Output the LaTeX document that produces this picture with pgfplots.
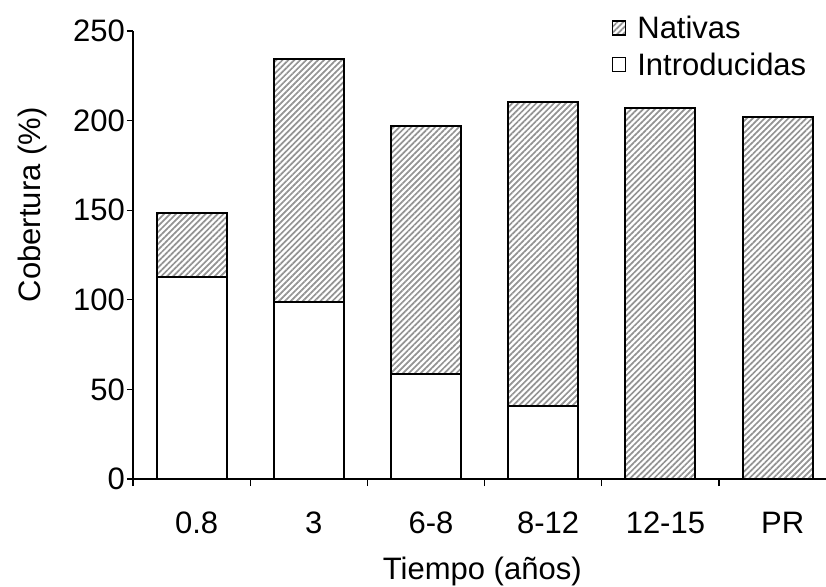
\documentclass[border=0pt]{standalone}
\usepackage{fontspec}
\setmainfont{Liberation Sans}
\usepackage{pgfplots}
\pgfplotsset{compat=1.18}
\usetikzlibrary{patterns.meta}

\tikzset{hatch/.style={pattern={Lines[angle=45,distance=4.2pt,line width=1.7pt]},pattern color=gray!85}}

\begin{document}
\fontsize{31}{37}\selectfont
\begin{tikzpicture}
\begin{axis}[
  at={(133pt,107pt)}, anchor=south west,
  scale only axis, width=693pt, height=448pt,
  ybar stacked, bar width=70pt,
  xmin=-0.5, xmax=5.413, ymin=0, ymax=250,
  ytick={0,50,...,250},
  xtick={0,...,5},
  xticklabels={0.8,3,6-8,8-12,12-15,PR},
  minor xtick={-0.5,0.5,1.5,2.5,3.5,4.5},
  major x tick style={draw=none},
  axis lines*=left,
  axis line style={line width=1.3pt},
  every tick/.style={black, line width=1.3pt},
  tick align=outside, major tick length=6pt, minor tick length=7pt,
  /pgf/number format/assume math mode=true,
  yticklabel style={inner sep=0pt, xshift=-2pt},
  xticklabel style={anchor=base, inner sep=0pt, yshift=-48pt, xshift=5pt},
  xlabel={Tiempo (años)},
  ylabel={Cobertura (\%)},
  xlabel style={at={(axis description cs:0.504,0)}, anchor=base, inner sep=0pt, yshift=-100pt},
  ylabel style={at={(axis description cs:-0.1457,0.612)}, anchor=center, inner sep=0pt},
  reverse legend,
  legend cell align=left,
  legend style={draw=none, fill=none, at={(axis description cs:0.691,1.035)}, anchor=north west,
    inner sep=0pt, row sep=7pt, column sep=10pt, nodes={inner sep=1pt}},
]
\addplot[fill=white, draw=black, line width=2pt,
  legend image code/.code={\draw[black, line width=1.3pt, fill=white] (0pt,-5pt) rectangle (13pt,9pt);}]
  coordinates {(0,112.7) (1,98.5) (2,58.6) (3,40.7) (4,0) (5,0)};
\addplot[hatch, draw=black, line width=2pt,
  legend image code/.code={\draw[black, line width=1.3pt, hatch] (0pt,-5pt) rectangle (13pt,9pt);}]
  coordinates {(0,35.7) (1,135.9) (2,138.4) (3,169.7) (4,207) (5,202)};
\legend{Introducidas,Nativas}
\end{axis}
\pgfresetboundingbox
\path[use as bounding box] (0,0) rectangle (826pt,586pt);
\end{tikzpicture}
\end{document}
